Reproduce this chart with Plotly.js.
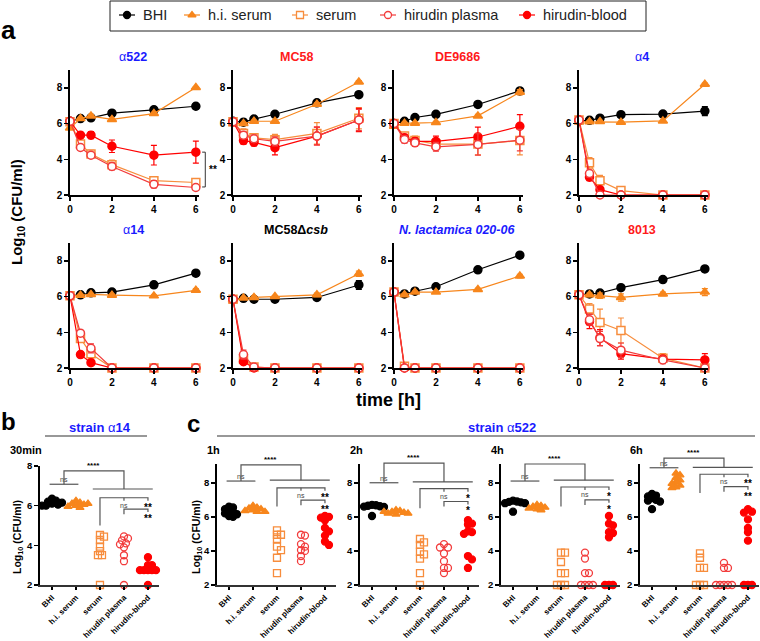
<!DOCTYPE html>
<html>
<head>
<meta charset="utf-8">
<script src="https://cdn.plot.ly/plotly-3.0.1.min.js"></script>
<style>
  body { margin: 0; background: #fff; }
  #chart { width: 760px; height: 641px; }
</style>
</head>
<body>
<div id="chart"></div>
<script>
// ---- data ----------------------------------------------------------
// group order everywhere: BHI, h.i. serum, serum, hirudin plasma, hirudin-blood
var timeH = [0, 0.5, 1, 2, 4, 6];
var groupNames = ["BHI", "h.i. serum", "serum", "hirudin plasma", "hirudin-blood"];
var strainTitles = ["α522", "MC58", "DE9686", "α4", "α14", "MC58Δ<i>csb</i>", "<i>N. lactamica 020-06</i>", "8013"];

var a522Mean = [
    [6.13, 6.28, 6.32, 6.58, 6.77, 6.97],
    [5.75, 6.28, 6.42, 6.23, 6.56, 8.02],
    [6.10, 4.85, 4.30, 3.70, 2.80, 2.70],
    [6.13, 4.66, 4.23, 3.60, 2.60, 2.42],
    [6.13, 5.35, 5.35, 4.73, 4.23, 4.40]
];
var a522Sd = [
    [0.05, 0.05, 0.05, 0.06, 0.06, 0.05],
    [0.05, 0.06, 0.08, 0.06, 0.06, 0.05],
    [0.08, 0.15, 0.20, 0.25, 0.22, 0.20],
    [0.08, 0.12, 0.15, 0.20, 0.20, 0.15],
    [0.08, 0.12, 0.20, 0.35, 0.55, 0.62]
];
var mc58Mean = [
    [6.13, 6.08, 6.25, 6.52, 7.16, 7.62],
    [6.00, 6.00, 6.13, 6.13, 7.08, 8.33],
    [6.10, 5.45, 5.20, 5.10, 5.45, 6.30],
    [6.10, 5.35, 5.15, 5.00, 5.30, 6.20],
    [6.10, 5.05, 4.95, 4.65, 5.30, 6.20]
];
var mc58Sd = [
    [0.05, 0.05, 0.05, 0.06, 0.08, 0.15],
    [0.05, 0.05, 0.05, 0.05, 0.08, 0.08],
    [0.08, 0.25, 0.20, 0.30, 0.60, 0.60],
    [0.08, 0.20, 0.20, 0.25, 0.50, 0.60],
    [0.08, 0.20, 0.20, 0.40, 0.50, 0.65]
];
var de9686Mean = [
    [6.00, 6.13, 6.34, 6.52, 7.07, 7.83],
    [5.85, 6.02, 6.02, 6.06, 6.43, 7.75],
    [6.00, 5.30, 5.05, 4.85, 4.85, 5.05],
    [6.00, 5.11, 4.92, 4.70, 4.83, 5.07],
    [6.00, 5.20, 5.00, 5.00, 5.25, 5.85]
];
var de9686Sd = [
    [0.05, 0.05, 0.05, 0.05, 0.06, 0.08],
    [0.05, 0.05, 0.05, 0.05, 0.08, 0.15],
    [0.08, 0.15, 0.25, 0.20, 0.60, 0.80],
    [0.08, 0.20, 0.20, 0.25, 0.60, 0.60],
    [0.08, 0.20, 0.20, 0.30, 0.55, 0.65]
];
var a4Mean = [
    [6.15, 6.18, 6.30, 6.50, 6.53, 6.70],
    [6.10, 6.10, 6.12, 6.08, 6.15, 8.20],
    [6.20, 3.80, 2.80, 2.25, 2.00, 2.00],
    [6.20, 3.20, 2.00, 2.00, 2.00, 2.00],
    [6.20, 3.00, 2.30, 2.00, 2.00, 2.00]
];
var a4Sd = [
    [0.05, 0.05, 0.05, 0.05, 0.06, 0.25],
    [0.05, 0.05, 0.05, 0.05, 0.05, 0.06],
    [0.08, 0.30, 0.30, 0.10, 0, 0],
    [0.08, 0.20, 0, 0, 0, 0],
    [0.08, 0.20, 0.15, 0, 0, 0]
];
var a14Mean = [
    [6.04, 6.10, 6.21, 6.25, 6.66, 7.31],
    [6.04, 6.08, 6.12, 6.08, 6.04, 6.35],
    [6.04, 3.65, 2.80, 2.00, 2.00, 2.00],
    [6.04, 3.95, 3.10, 2.00, 2.00, 2.00],
    [6.04, 2.75, 2.30, 2.00, 2.00, 2.00]
];
var a14Sd = [
    [0.05, 0.05, 0.05, 0.05, 0.15, 0.15],
    [0.05, 0.05, 0.05, 0.05, 0.06, 0.10],
    [0.08, 0.20, 0.25, 0, 0, 0],
    [0.08, 0.15, 0.25, 0, 0, 0],
    [0.08, 0.08, 0.08, 0, 0, 0]
];
var csbMean = [
    [5.85, 5.90, 5.85, 5.85, 5.95, 6.65],
    [5.80, 5.92, 5.95, 6.00, 6.10, 7.28],
    [5.85, 2.50, 2.05, 2.00, 2.00, 2.00],
    [5.85, 2.75, 2.05, 2.00, 2.00, 2.00],
    [5.85, 2.35, 2.00, 2.00, 2.00, 2.00]
];
var csbSd = [
    [0.05, 0.05, 0.05, 0.10, 0.15, 0.25],
    [0.05, 0.05, 0.08, 0.06, 0.10, 0.15],
    [0.08, 0.30, 0.10, 0, 0, 0],
    [0.08, 0.25, 0.10, 0, 0, 0],
    [0.08, 0.15, 0.05, 0, 0, 0]
];
var lactMean = [
    [6.25, 6.15, 6.30, 6.55, 7.50, 8.32],
    [6.20, 6.10, 6.25, 6.25, 6.40, 7.15],
    [6.25, 2.10, 2.00, 2.00, 2.00, 2.00],
    [6.25, 2.00, 2.00, 2.00, 2.00, 2.00],
    [6.25, 2.00, 2.00, 2.00, 2.00, 2.00]
];
var lactSd = [
    [0.05, 0.05, 0.05, 0.05, 0.10, 0.10],
    [0.05, 0.08, 0.05, 0.05, 0.06, 0.10],
    [0.08, 0.15, 0, 0, 0, 0],
    [0.08, 0, 0, 0, 0, 0],
    [0.08, 0, 0, 0, 0, 0]
];
var s8013Mean = [
    [6.10, 6.15, 6.20, 6.50, 6.95, 7.55],
    [6.10, 6.10, 6.05, 5.95, 6.15, 6.25],
    [6.10, 5.30, 4.55, 4.10, 2.55, 2.00],
    [6.10, 4.70, 3.65, 3.00, 2.45, 2.00],
    [6.10, 4.60, 3.70, 2.80, 2.50, 2.45]
];
var s8013Sd = [
    [0.05, 0.05, 0.05, 0.05, 0.06, 0.06],
    [0.05, 0.10, 0.15, 0.20, 0.10, 0.20],
    [0.08, 0.30, 0.75, 0.70, 0.25, 0],
    [0.08, 0.30, 0.40, 0.40, 0.20, 0],
    [0.08, 0.40, 0.45, 0.30, 0.20, 0.35]
];

// panel b (strain α14, 30 min) and panel c (strain α522, 1h/2h/4h/6h): single values
var b30min = [
    [6.35, 6.25, 6.20, 6.10, 6.05, 6.00, 6.15, 6.00],
    [6.25, 6.15, 6.10, 6.05, 6.00, 5.95, 5.90, 6.10],
    [4.52, 4.44, 4.27, 3.93, 3.71, 3.51, 3.51, 2.00],
    [4.45, 4.35, 4.25, 4.10, 4.05, 3.90, 3.50, 3.20, 2.00],
    [3.40, 3.00, 3.00, 2.75, 2.75, 2.75, 2.75, 2.75, 2.00]
];
var c1h = [
    [6.60, 6.55, 6.45, 6.35, 6.30, 6.20, 6.15, 6.05, 6.00],
    [6.65, 6.55, 6.50, 6.45, 6.40, 6.35, 6.30, 6.30],
    [5.20, 4.95, 4.95, 4.70, 4.25, 4.05, 3.60, 2.70],
    [4.95, 4.90, 4.40, 4.25, 4.05, 4.00, 3.70, 3.40],
    [6.05, 6.00, 5.95, 5.80, 5.35, 5.15, 4.90, 4.55, 4.35]
];
var c2h = [
    [6.70, 6.68, 6.65, 6.62, 6.60, 6.58, 6.55, 6.05],
    [6.40, 6.35, 6.30, 6.25, 6.20, 6.20, 6.15, 6.30],
    [4.70, 4.50, 4.35, 3.95, 3.80, 3.55, 2.70, 2.00],
    [4.40, 4.20, 4.20, 3.85, 3.40, 3.00, 3.00, 2.70],
    [5.80, 5.60, 5.55, 5.15, 5.10, 5.00, 3.70, 3.50, 3.00]
];
var c4h = [
    [6.95, 6.90, 6.88, 6.85, 6.80, 6.80, 6.75, 6.30],
    [6.70, 6.65, 6.60, 6.55, 6.50, 6.45, 6.40],
    [3.90, 3.90, 3.35, 2.70, 2.70, 2.00, 2.00, 2.00],
    [3.90, 3.55, 2.70, 2.70, 2.00, 2.00, 2.00, 2.00],
    [6.05, 5.60, 5.50, 5.10, 5.05, 4.80, 2.00, 2.00, 2.00]
];
var c6h = [
    [7.35, 7.25, 7.20, 7.10, 7.00, 6.95, 6.90, 6.45],
    [8.55, 8.45, 8.30, 8.15, 8.05, 7.95, 7.85, 7.75, 7.70],
    [3.85, 3.60, 3.00, 3.00, 2.00, 2.00, 2.00],
    [3.30, 3.00, 3.00, 2.00, 2.00, 2.00, 2.00, 2.00],
    [6.45, 6.30, 6.25, 5.85, 5.35, 5.10, 4.60, 2.00, 2.00, 2.00]
];
var cTitles = ["1h", "2h", "4h", "6h"];
var bSig = ["****", "ns", "ns", "**", "**"];
var cSig = [
    ["****", "ns", "ns", "**", "**"],
    ["****", "ns", "ns", "*", "*"],
    ["****", "ns", "ns", "*", "*"],
    ["****", "ns", "ns", "**", "**"]
];

// ---- styles / layout helpers ----------------------------------------
var W = 760, H = 641;
var FONT = "Liberation Sans, Arial, sans-serif";
var BLUE = "#1a1aff", RED = "#ff1a1a";
var titleColors = [BLUE, RED, RED, BLUE, BLUE, "#000", BLUE, RED];

var gColor = ["#000000", "#f7861c", "#f78d3d", "#f23b3b", "#ff0000"];
var gSymA = ["circle", "triangle-up", "square", "circle", "circle"];
var gFillA = ["#000000", "#f7861c", "#ffffff", "#ffffff", "#ff0000"];
var gSymB = ["circle", "triangle-up", "square-open", "circle-open", "circle"];
var drawOrder = [0, 1, 2, 4, 3];

function ax(n) { return n === 1 ? "" : String(n); }

function paperPt(sp, xv, yv) {
    var x = sp.xd[0] + (xv - sp.xr[0]) / (sp.xr[1] - sp.xr[0]) * (sp.xd[1] - sp.xd[0]);
    var y = sp.yd[1] - (yv - sp.yr[0]) / (sp.yr[1] - sp.yr[0]) * (sp.yd[1] - sp.yd[0]);
    return [x / W, 1 - y / H];
}

function ann(text, x, y, size, color, extra) {
    var a = {
        text: text, xref: "paper", yref: "paper", x: x / W, y: 1 - y / H,
        showarrow: false, xanchor: "center", yanchor: "middle",
        font: { family: FONT, size: size, color: color || "#000" }
    };
    for (var k in extra) a[k] = extra[k];
    return a;
}

function pathShape(pts, color, width) {
    var d = pts.map(function (p, i) { return (i ? "L" : "M") + p[0] + "," + p[1]; }).join(" ");
    return { type: "path", xref: "paper", yref: "paper", path: d,
             line: { color: color || "#555", width: width || 1.2 } };
}

// simple beeswarm: spread points sideways when they would overlap
function swarm(vals, pxX, pxY) {
    var d = 4, step = 2, placed = [];
    return vals.map(function (v) {
        var off = 0;
        for (var i = 0; i < 40; i++) {
            off = (i % 2 ? 1 : -1) * Math.ceil(i / 2) * step;
            var ok = placed.every(function (p) {
                return Math.hypot(p[0] - off, (p[1] - v) * pxY) >= d;
            });
            if (ok) break;
        }
        placed.push([off, v]);
        return off / pxX;
    });
}

var traces = [];
var shapes = [];
var annotations = [];
var layout = {
    width: W, height: H,
    margin: { l: 0, r: 0, t: 0, b: 0 },
    paper_bgcolor: "#ffffff",
    plot_bgcolor: "rgba(0,0,0,0)",
    showlegend: false,
    font: { family: FONT }
};

function axisBase(sp) {
    return {
        showline: true, linecolor: "#000", linewidth: 1.8,
        ticks: "outside", ticklen: 4, tickwidth: 1.5, tickcolor: "#000",
        showgrid: false, zeroline: false, fixedrange: true,
        tickfont: { family: FONT, size: 10, color: "#000", weight: "bold" }
    };
}

// ---- panel a: time courses -------------------------------------------
var aMeans = [a522Mean, mc58Mean, de9686Mean, a4Mean, a14Mean, csbMean, lactMean, s8013Mean];
var aSds = [a522Sd, mc58Sd, de9686Sd, a4Sd, a14Sd, csbSd, lactSd, s8013Sd];
var aCols = [[70, 199], [233, 362], [394, 523], [579, 708]];
var aRows = [[70, 195], [243, 368]];
var aSub = [];

aMeans.forEach(function (mean, i) {
    var n = i + 1;
    var sp = { xd: aCols[i % 4], yd: aRows[Math.floor(i / 4)], xr: [0, 6.15], yr: [2, 9] };
    aSub.push(sp);
    var xa = axisBase(sp), ya = axisBase(sp);
    xa.domain = [sp.xd[0] / W, sp.xd[1] / W];
    xa.range = sp.xr; xa.tickvals = [0, 2, 4, 6]; xa.anchor = "y" + ax(n);
    ya.domain = [1 - sp.yd[1] / H, 1 - sp.yd[0] / H];
    ya.range = sp.yr; ya.tickvals = [2, 4, 6, 8]; ya.anchor = "x" + ax(n);
    layout["xaxis" + ax(n)] = xa;
    layout["yaxis" + ax(n)] = ya;

    drawOrder.forEach(function (g) {
        traces.push({
            type: "scatter", mode: "lines+markers",
            x: timeH, y: mean[g],
            xaxis: "x" + ax(n), yaxis: "y" + ax(n),
            cliponaxis: false,
            line: { color: gColor[g], width: 1.2 },
            marker: { symbol: gSymA[g], size: 8, color: gFillA[g],
                      line: { color: gColor[g], width: 1.5 } },
            error_y: { type: "data", array: aSds[i][g], visible: true,
                       color: gColor[g], thickness: 1.2, width: 3 },
            name: groupNames[g], hoverinfo: "x+y+name"
        });
    });

    var t = strainTitles[i].replace("α", "<span style='font-weight:normal'>α</span>");
    var cx = (sp.xd[0] + sp.xd[0] + 126) / 2;
    annotations.push(ann("<b>" + t + "</b>", cx, sp.yd[0] - 13, 12.5, titleColors[i]));
});

// ** bracket next to α522 at 6 h
(function () {
    var sp = aSub[0];
    shapes.push(pathShape([paperPt(sp, 6.3, 4.4), paperPt(sp, 6.45, 4.4),
                           paperPt(sp, 6.45, 2.45), paperPt(sp, 6.3, 2.45)], "#333", 1));
    var p = paperPt(sp, 6.55, 3.45);
    annotations.push({ text: "<b>**</b>", xref: "paper", yref: "paper", x: p[0], y: p[1],
        xanchor: "left", yanchor: "middle", showarrow: false,
        font: { family: FONT, size: 10, color: "#000" } });
})();

annotations.push(ann("<b>Log<sub>10</sub> (CFU/ml)</b>", 17, 212, 15, "#000", { textangle: -90 }));
annotations.push(ann("<b>time [h]</b>", 388, 400, 18));
annotations.push(ann("<b>a</b>", 8, 30, 26));

// ---- panels b and c: single values with significance brackets ---------
function scatterPanel(n, sp, sets, sig, title, yLabel, labelX) {
    var xa = axisBase(sp), ya = axisBase(sp);
    xa.domain = [sp.xd[0] / W, sp.xd[1] / W];
    xa.range = sp.xr; xa.tickvals = [0, 1, 2, 3, 4]; xa.ticktext = groupNames;
    xa.tickangle = -45; xa.ticklen = 3; xa.linecolor = "#333";
    xa.tickfont = { family: FONT, size: 8, color: "#000", weight: "bold" };
    xa.anchor = "y" + ax(n);
    ya.domain = [1 - sp.yd[1] / H, 1 - sp.yd[0] / H];
    ya.range = sp.yr; ya.tickvals = [2, 4, 6, 8]; ya.anchor = "x" + ax(n);
    ya.tickfont = { family: FONT, size: 9.5, color: "#000", weight: "bold" };
    layout["xaxis" + ax(n)] = xa;
    layout["yaxis" + ax(n)] = ya;

    var pxX = (sp.xd[1] - sp.xd[0]) / (sp.xr[1] - sp.xr[0]);
    var pxY = (sp.yd[1] - sp.yd[0]) / (sp.yr[1] - sp.yr[0]);
    sets.forEach(function (vals, g) {
        var jit = swarm(vals, pxX, pxY);
        traces.push({
            type: "scatter", mode: "markers",
            x: vals.map(function (v, k) { return g + jit[k]; }), y: vals,
            xaxis: "x" + ax(n), yaxis: "y" + ax(n), cliponaxis: false,
            marker: { symbol: gSymB[g], size: 7, color: gColor[g],
                      line: { color: gColor[g], width: 1.3 } },
            name: groupNames[g], hoverinfo: "y+name"
        });
    });

    // brackets
    var lv = sig.levels, lab = sig.labels;
    var top = lv[0], nsY = lv[1], grpY = lv[2], l1 = lv[3], low = lv[4], l2 = lv[5];
    var tk = 3 / pxY;
    var P = function (x, y) { return paperPt(sp, x, y); };
    shapes.push(pathShape([P(-0.1, nsY), P(1.1, nsY)]));
    shapes.push(pathShape([P(0.5, nsY), P(0.5, top), P(3, top), P(3, grpY)]));
    shapes.push(pathShape([P(1.7, grpY), P(4.2, grpY)]));
    shapes.push(pathShape([P(2, low), P(2, l1), P(4, l1), P(4, l1 - tk)]));
    shapes.push(pathShape([P(3, l1), P(3, l1 - tk)]));
    shapes.push(pathShape([P(3, l2 - 1.7 * tk), P(3, l2), P(4, l2), P(4, l2 - tk)]));
    var txt = function (s, x, y, yanc, size, bold, color) {
        var p = P(x, y);
        annotations.push({ text: bold ? "<b>" + s + "</b>" : s, xref: "paper", yref: "paper",
            x: p[0], y: p[1], xanchor: "center", yanchor: yanc, showarrow: false,
            borderpad: 0, font: { family: FONT, size: size, color: color } });
    };
    txt(lab[0], 1.75, top, "bottom", 8, true, "#000");
    txt(lab[1], 0.5, nsY, "bottom", 7, false, "#444");
    txt(lab[2], 3, l1 - tk, "top", 7, false, "#444");
    txt(lab[3], 4, l1 - tk, "top", 10, true, "#000");
    txt(lab[4], 4, l2 - tk, "top", 10, true, "#000");

    annotations.push(ann("<b>" + title + "</b>", sp.xd[0] - 12, 450, 11, "#000", { xanchor: "left" }));
    if (yLabel) {
        annotations.push(ann("<b>Log<sub>10</sub> (CFU/ml)</b>", labelX, 537, 10.5, "#000", { textangle: -90 }));
    }
}

var bSp = { xd: [40, 159], yd: [466, 585], xr: [-0.5, 4.46], yr: [2, 8] };
scatterPanel(9, bSp, b30min, { levels: [7.75, 7.08, 6.84, 6.4, 5.0, 5.83], labels: bSig },
             "30min", true, 18);
annotations[annotations.length - 2].x = 8 / W;

var cSets = [c1h, c2h, c4h, c6h];
var cCols = [[217, 336], [360, 479], [501, 620], [640, 759]];
var cLevels = [
    [9.05, 8.10, 8.15, 7.70, 6.60, 6.98],
    [9.15, 8.00, 8.05, 7.65, 6.50, 6.90],
    [9.10, 8.10, 8.15, 7.75, 6.60, 7.00],
    [9.45, 8.88, 8.90, 8.50, 7.40, 7.77]
];
cSets.forEach(function (sets, i) {
    var sp = { xd: cCols[i], yd: [464, 585], xr: [-0.5, 4.46], yr: [2, 9.1] };
    scatterPanel(10 + i, sp, sets, { levels: cLevels[i], labels: cSig[i] },
                 cTitles[i], i === 0, 197);
});

annotations.push(ann("<b>b</b>", 8, 421, 24));
annotations.push(ann("<b>c</b>", 193, 423, 24));
annotations.push(ann("<b>strain <span style='font-weight:normal'>α</span>14</b>", 100, 427, 13, BLUE));
annotations.push(ann("<b>strain <span style='font-weight:normal'>α</span>522</b>", 502, 427, 13, BLUE));
shapes.push(pathShape([[45 / W, 1 - 436 / H], [147 / W, 1 - 436 / H]], "#333", 1.2));
shapes.push(pathShape([[217 / W, 1 - 436 / H], [755 / W, 1 - 436 / H]], "#333", 1.2));

// ---- legend (drawn by hand on a pixel overlay axis) --------------------
var keyX = [127, 192, 300, 388, 527];
layout.xaxis14 = { domain: [0, 1], range: [0, W], visible: false, fixedrange: true, anchor: "y14" };
layout.yaxis14 = { domain: [0, 1], range: [H, 0], visible: false, fixedrange: true, anchor: "x14" };
shapes.push({ type: "rect", xref: "paper", yref: "paper", x0: 110 / W, x1: 646 / W,
              y0: 1 - 31 / H, y1: 1 - 1 / H, line: { color: "#222", width: 1 } });
groupNames.forEach(function (name, g) {
    traces.push({ type: "scatter", mode: "lines", x: [keyX[g] - 8, keyX[g] + 8], y: [15, 15],
                  xaxis: "x14", yaxis: "y14", line: { color: gColor[g], width: 1.2 },
                  hoverinfo: "skip" });
    traces.push({ type: "scatter", mode: "markers", x: [keyX[g]], y: [15],
                  xaxis: "x14", yaxis: "y14", cliponaxis: false,
                  marker: { symbol: gSymA[g], size: 7, color: gFillA[g],
                            line: { color: gColor[g], width: 1.3 } },
                  hoverinfo: "skip" });
    annotations.push(ann(name, keyX[g] + 14, 15, 14.5, "#222", { xanchor: "left" }));
});

layout.shapes = shapes;
layout.annotations = annotations;

Plotly.newPlot("chart", traces, layout, { staticPlot: true });
</script>
</body>
</html>
